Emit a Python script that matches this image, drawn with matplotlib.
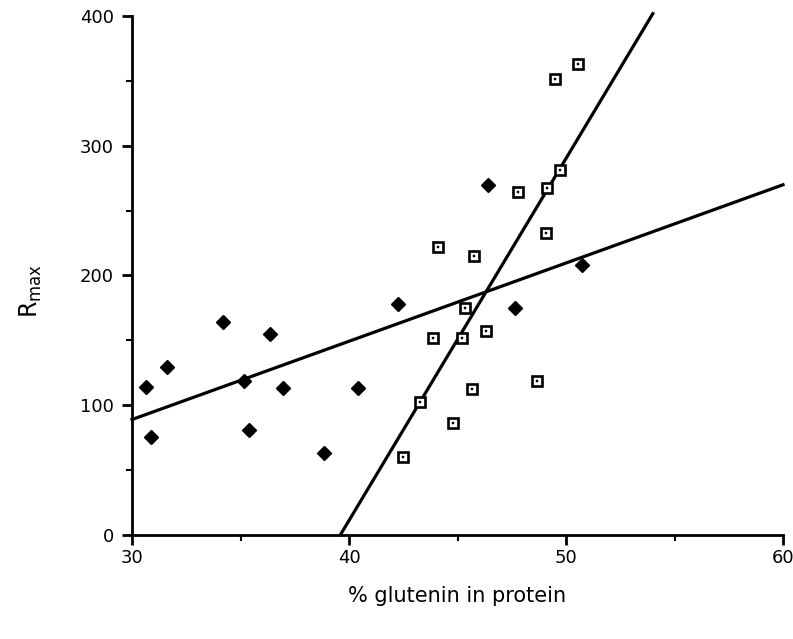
import matplotlib
matplotlib.use("Agg")
import matplotlib.pyplot as plt
import numpy as np

# Filled diamonds (series 1)
diamond_x = [30.65, 30.86, 31.63, 34.18, 35.18, 35.39, 36.36, 36.94, 38.85, 40.40, 42.26, 46.40, 47.66, 50.72]
diamond_y = [114.3, 75.8, 129.2, 164.4, 118.7, 80.9, 154.9, 113.3, 63.0, 113.3, 178.0, 269.7, 175.2, 208.0]

# Open squares (series 2)
square_x = [42.48, 43.29, 44.79, 43.88, 45.22, 46.30, 45.33, 45.65, 44.09, 45.74, 48.65,
            49.06, 47.80, 49.14, 49.74, 49.47, 50.53]
square_y = [60.0, 102.1, 86.2, 151.9, 151.9, 156.9, 175.0, 112.3, 221.6, 214.7, 118.6,
            232.8, 264.3, 267.5, 281.0, 351.2, 362.8]

# Regression lines: (slope, intercept, x_start, x_end)
line1_slope, line1_intercept = 6.03, -91.9
line1_range = [30, 60]
line2_slope, line2_intercept = 27.9, -1104.8
line2_range = [39.6, 54.0]

xticks = [30, 40, 50, 60]
yticks = [0, 100, 200, 300, 400]

fig = plt.figure(figsize=(7.93, 6.39), dpi=100)
ax = fig.add_axes([0.1665, 0.1628, 0.8209, 0.8122])

lw = 2.3
x1 = np.array(line1_range)
ax.plot(x1, line1_slope * x1 + line1_intercept, color="black", lw=lw, clip_on=False, zorder=2)
x2 = np.array(line2_range)
ax.plot(x2, line2_slope * x2 + line2_intercept, color="black", lw=lw, clip_on=False, zorder=2)

ax.plot(diamond_x, diamond_y, linestyle="none", marker="D", markersize=7,
        markerfacecolor="black", markeredgecolor="black", zorder=3, clip_on=False)
ax.plot(square_x, square_y, linestyle="none", marker="s", markersize=7.5,
        markerfacecolor="white", markeredgecolor="black", markeredgewidth=1.9, zorder=3, clip_on=False)
ax.plot(square_x, square_y, linestyle="none", marker="s", markersize=1.6,
        markerfacecolor="black", markeredgecolor="black", markeredgewidth=0.3, zorder=4, clip_on=False)

ax.set_xlim(30, 60)
ax.set_ylim(0, 400)
ax.set_xticks(xticks)
ax.set_yticks(yticks)
ax.set_xticks([35, 45, 55], minor=True)
ax.set_yticks([50, 150, 250, 350], minor=True)

for s in ["top", "right"]:
    ax.spines[s].set_visible(False)
for s in ["left", "bottom"]:
    ax.spines[s].set_linewidth(2)

ax.tick_params(axis="both", which="major", direction="out", length=7, width=2, labelsize=13)
ax.tick_params(axis="both", which="minor", direction="out", length=4, width=1.5)
ax.tick_params(axis="x", which="major", pad=3)
ax.tick_params(axis="y", which="major", pad=6)

ax.set_xlabel("% glutenin in protein", fontsize=15, labelpad=14)
ax.set_ylabel(r"R$_{\mathregular{max}}$", fontsize=17, labelpad=28)
ax.yaxis.set_label_coords(-0.135, 0.47)

fig.savefig("out.png", dpi=100)
